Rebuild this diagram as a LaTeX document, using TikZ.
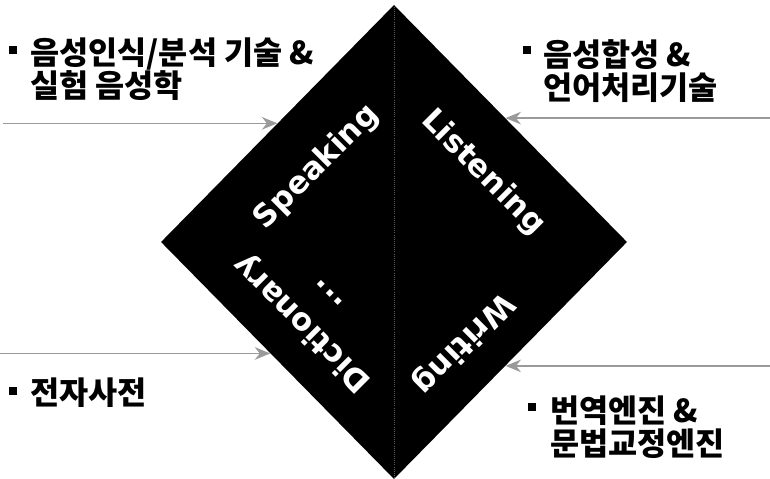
\documentclass[tikz,border=0pt]{standalone}
\usepackage{fontspec}
\setsansfont{DejaVu Sans}
\newfontfamily\korfont{Noto Sans CJK KR}
\usetikzlibrary{positioning, arrows.meta, shapes.geometric}
\definecolor{arrowGray}{HTML}{9A9A9A}
\definecolor{splitGray}{HTML}{5A5A5A}
\tikzset{
  card/.style={shape=diamond, fill=black, draw=none, inner sep=0pt,
    minimum width=11.65cm, minimum height=11.85cm},
  skill/.style={text=white, font=\sffamily\bfseries\fontsize{22}{26}\selectfont,
    inner sep=0pt},
  feed/.style={-{Stealth[length=11pt, width=9pt]}, line width=0.9pt, color=arrowGray},
  split/.style={densely dotted, line width=0.5pt, color=splitGray},
  techlabel/.style={font=\korfont\bfseries\fontsize{22.5}{23.4}\selectfont,
    align=left, anchor=north west, inner sep=0pt, text=black},
  bulletmark/.style={fill=black, minimum size=0.18cm, inner sep=0pt},
}

\begin{document}
\begin{tikzpicture}[x=0.025cm, y=-0.025cm]
  \useasboundingbox (0,0) rectangle (770,479);

  % === Diamond with the four skills ===
  \node[card] (dia) at (394,242) {};
  \draw[split] (dia.north) -- (dia.south);

  \node[skill, rotate=45] (speak) at (317,167) {Speaking};
  \node[skill, rotate=-45] (listen) at (483,173) {Listening};
  \node[skill, rotate=-135] (write) at (463,343) {Writing};
  \node[skill, rotate=135] (dict) at (303,323) {Dictionary};
  \node[skill, rotate=135] (more) at (330,293) {...};

  % === Technology labels ===
  \node[bulletmark] (bSpeak) at (13,50) {};
  \node[techlabel] (tSpeak) at (30,38) {음성인식/분석 기술 \&\\실험 음성학};

  \node[bulletmark] (bListen) at (527,50) {};
  \node[techlabel] (tListen) at (543,39) {음성합성 \&\\언어처리기술};

  \node[bulletmark] (bDict) at (13,391) {};
  \node[techlabel] (tDict) at (30,378) {전자사전};

  \node[bulletmark] (bWrite) at (532,407) {};
  \node[techlabel] (tWrite) at (550,396) {번역엔진 \&\\문법교정엔진};

  % === Arrows into the diamond ===
  \path (dia.north west) ++(-274,0) coordinate (srcSpeak);
  \path (dia.48) ++(264,0) coordinate (srcListen);
  \path (dia.222) ++(-271,0) coordinate (srcDict);
  \path (dia.312) ++(265,0) coordinate (srcWrite);

  \draw[feed] (srcSpeak) -- (dia.north west);
  \draw[feed] (srcListen) -- (dia.48);
  \draw[feed] (srcDict) -- (dia.222);
  \draw[feed] (srcWrite) -- (dia.312);

\end{tikzpicture}
\end{document}
